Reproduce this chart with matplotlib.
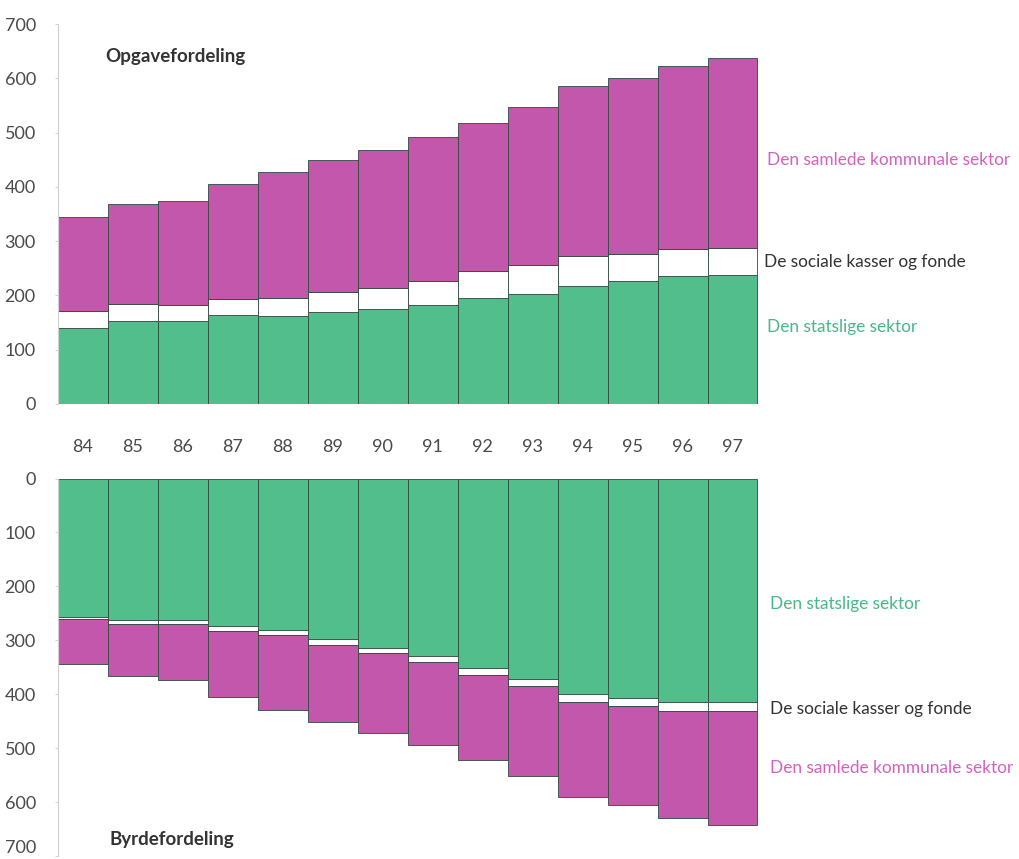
import matplotlib
matplotlib.use("Agg")
import matplotlib.pyplot as plt
import numpy as np

plt.rcParams['font.family'] = ['Lato', 'DejaVu Sans']

years = ['84', '85', '86', '87', '88', '89', '90', '91', '92', '93', '94', '95', '96', '97']

# Opgavefordeling (upper panel), mia. kr.
stat_opg = [140, 153, 152, 164, 163, 169, 175, 182, 195, 202, 218, 227, 236, 238]
social_opg = [31, 31, 30, 29, 33, 37, 39, 45, 50, 54, 55, 49, 50, 49]
kommune_opg = [173, 185, 192, 212, 231, 244, 254, 265, 273, 291, 313, 325, 336, 351]

# Byrdefordeling (lower panel)
stat_byrde = [256, 262, 262, 274, 281, 297, 314, 330, 351, 371, 400, 407, 415, 415]
social_byrde = [5, 7, 7, 9, 9, 12, 10, 11, 13, 14, 15, 15, 16, 16]
kommune_byrde = [83, 98, 105, 122, 139, 143, 147, 153, 158, 167, 175, 183, 199, 211]

yticks = [0, 100, 200, 300, 400, 500, 600, 700]

GREEN = '#52be8c'
MAGENTA = '#c357ab'
GREEN_TXT = '#48b889'
MAGENTA_TXT = '#d561bd'
EDGE = '#2f4a3c'
GREY = '#4a4a4a'

W, H = 1019, 859
fig = plt.figure(figsize=(W / 100, H / 100), dpi=100)

def px_axes(x0, y_top, x1, y_bot):
    return fig.add_axes([x0 / W, 1 - y_bot / H, (x1 - x0) / W, (y_bot - y_top) / H])

ax1 = px_axes(58, 24, 757.5, 404)
ax2 = px_axes(58, 478.5, 757.5, 856)

x = np.arange(len(years))

def stack(ax, parts, colors):
    bottom = np.zeros(len(years))
    for vals, col in zip(parts, colors):
        ax.bar(x, vals, width=1.0, bottom=bottom, color=col,
               edgecolor=EDGE, linewidth=0.6)
        bottom = bottom + np.array(vals)

stack(ax1, [stat_opg, social_opg, kommune_opg], [GREEN, 'white', MAGENTA])
stack(ax2, [stat_byrde, social_byrde, kommune_byrde], [GREEN, 'white', MAGENTA])

for ax in (ax1, ax2):
    ax.set_xlim(-0.5, len(years) - 0.5)
    ax.set_ylim(0, 700)
    ax.set_yticks(yticks)
    ax.set_yticklabels([str(t) for t in yticks], fontsize=13, color=GREY)
    ax.tick_params(axis='y', length=2, width=0.6, color='#cccccc', pad=14)
    for s in ['top', 'right', 'bottom']:
        ax.spines[s].set_visible(False)
    ax.spines['left'].set_color('#d0d0d0')
    ax.spines['left'].set_linewidth(0.8)

ax2.invert_yaxis()
# keep the lowest label inside the figure
ax2.get_yticklabels()[-1].set_verticalalignment('bottom')

ax1.set_xticks(x)
ax1.set_xticklabels(years, fontsize=13, color=GREY)
ax1.tick_params(axis='x', length=0, pad=25)
ax2.set_xticks([])

ax1.text(0.067, 0.915, 'Opgavefordeling', transform=ax1.transAxes,
         fontsize=13.5, fontweight='bold', color='#333333', va='center')
ax2.text(0.074, 0.045, 'Byrdefordeling', transform=ax2.transAxes,
         fontsize=13.5, fontweight='bold', color='#333333', va='center')

fs = 12.4
fig.text(767 / W, 1 - 160 / H, 'Den samlede kommunale sektor', fontsize=fs, color=MAGENTA_TXT, va='center')
fig.text(764 / W, 1 - 262 / H, 'De sociale kasser og fonde', fontsize=fs, color='#333333', va='center')
fig.text(767 / W, 1 - 327 / H, 'Den statslige sektor', fontsize=fs, color=GREEN_TXT, va='center')
fig.text(770 / W, 1 - 604 / H, 'Den statslige sektor', fontsize=fs, color=GREEN_TXT, va='center')
fig.text(770 / W, 1 - 709 / H, 'De sociale kasser og fonde', fontsize=fs, color='#333333', va='center')
fig.text(770 / W, 1 - 768 / H, 'Den samlede kommunale sektor', fontsize=fs, color=MAGENTA_TXT, va='center')

fig.savefig('out.png', dpi=100)
